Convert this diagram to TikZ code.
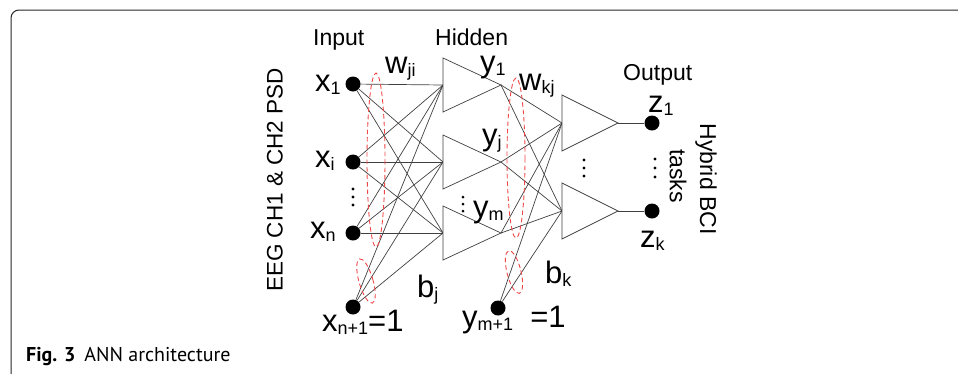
\documentclass[tikz,border=0pt]{standalone}
\usepackage{fontspec}
\setmainfont{Liberation Sans}
\newfontfamily\capfont{PT Sans}
\usetikzlibrary{calc}

\definecolor{grpred}{RGB}{240,70,70}
\newcommand{\lowidx}[1]{\raisebox{-3pt}{\fontsize{18}{18}\selectfont #1}}

\begin{document}
\begin{tikzpicture}[x=1pt, y=-1pt,
    wire/.style={draw=black!75, line width=0.7pt},
    unit/.style={circle, fill=black, inner sep=0pt, minimum size=15pt},
    cell/.style={draw=black!75, line width=0.7pt, fill=white},
    group/.style={draw=grpred, dash pattern=on 4.5pt off 3pt, line width=0.9pt},
    lbl/.style={font=\fontsize{31}{31}\selectfont, inner sep=0pt, anchor=base west},
    head/.style={font=\fontsize{23}{23}\selectfont, inner sep=0pt, anchor=base west}
]
\useasboundingbox (0,0) rectangle (958,373);

% frame and caption
\draw[black!85, line width=1pt, rounded corners=8pt] (958,10) -- (11,10) -- (11,380);
\node[anchor=base west, inner sep=0pt] (cap) at (26,361.5)
    {\capfont\fontsize{20}{24}\selectfont\textbf{Fig. 3}\hspace{0.45em}ANN architecture};

% input units
\node[unit] (x1) at (353,84) {};
\node[unit] (xi) at (353,162) {};
\node[unit] (xn) at (353,233) {};
\node[unit] (xb) at (353,307) {};

% hidden and output cells
\foreach \n/\y in {1/85, 2/162, 3/233} {
    \coordinate (h\n-in) at (443,\y);
    \coordinate (h\n-out) at (501,\y);
}
\foreach \n/\y in {1/123, 2/211} {
    \coordinate (o\n-in) at (562,\y);
    \coordinate (o\n-out) at (618,\y);
}
\node[unit] (yb) at (498,308) {};
\node[unit] (z1) at (652,123) {};
\node[unit] (zk) at (652,211) {};

% connections
\foreach \s in {x1, xi, xn, xb}
    \foreach \t in {1, 2, 3}
        \draw[wire] (\s) -- (h\t-in);
\foreach \s in {h1-out, h2-out, h3-out, yb}
    \foreach \t in {1, 2}
        \draw[wire] (\s) -- (o\t-in);
\draw[wire] (o1-out) -- (z1);
\draw[wire] (o2-out) -- (zk);

\foreach \n in {1, 2, 3}
    \draw[cell] ($(h\n-in)+(0,-27)$) -- ($(h\n-in)+(0,27)$) -- (h\n-out) -- cycle;
\foreach \n in {1, 2}
    \draw[cell] ($(o\n-in)+(0,-28)$) -- ($(o\n-in)+(0,28)$) -- (o\n-out) -- cycle;

% weight groups
\draw[group] (376,160) ellipse [x radius=9, y radius=87];
\draw[group, rotate around={16:(366,281)}] (366,281) ellipse [x radius=7, y radius=23];
\draw[group] (516,158) ellipse [x radius=9, y radius=80];
\draw[group, rotate around={14:(514,272)}] (514,272) ellipse [x radius=7, y radius=22];

% dots
\foreach \y in {189, 197, 205} \fill (353,\y) circle (1.6);
\foreach \y in {197, 204, 211} \fill (463,\y) circle (1.5);
\foreach \y in {160, 168, 176} \fill (584,\y) circle (1.6);
\foreach \y in {159, 168, 177} \fill (655,\y) circle (1.6);

% labels
\node[head] (tin) at (313,45) {Input};
\node[head] (thid) at (435,45) {Hidden};
\node[head] (tout) at (623,80) {Output};

\node[lbl] (lx1) at (315,91) {x\lowidx{1}};
\node[lbl] (lxi) at (315,167) {x\lowidx{i}};
\node[lbl] (lxn) at (310,238) {x\lowidx{n}};
\node[lbl] (lxb) at (322,331) {x\lowidx{n+1}=1};
\node[lbl] (lwji) at (385,73) {w\lowidx{ji}};
\node[lbl] (lbj) at (417,297) {b\lowidx{j}};

\node[lbl] (ly1) at (480,72) {y\lowidx{1}};
\node[lbl] (lyj) at (482,145) {y\lowidx{j}};
\node[lbl] (lym) at (473,217) {y\lowidx{m}};
\node[lbl] (lyb) at (462,327) {y\lowidx{m+1}\hspace{0.55em}=1};
\node[lbl] (lwkj) at (519,90) {w\lowidx{kj}};
\node[lbl] (lbk) at (545,283) {b\lowidx{k}};

\node[lbl] (lz1) at (648,112) {z\lowidx{1}};
\node[lbl] (lzk) at (640,247) {z\lowidx{k}};

\node[font=\fontsize{22.5}{22.5}\selectfont, rotate=90, inner sep=0pt] (eeg) at (275,180) {EEG CH1 \& CH2 PSD};
\node[font=\fontsize{23}{23}\selectfont, rotate=-90, inner sep=0pt] (bci) at (706,179) {Hybrid BCI};
\node[font=\fontsize{23}{23}\selectfont, rotate=-90, inner sep=0pt] (task) at (678,176) {tasks};
\end{tikzpicture}
\end{document}
